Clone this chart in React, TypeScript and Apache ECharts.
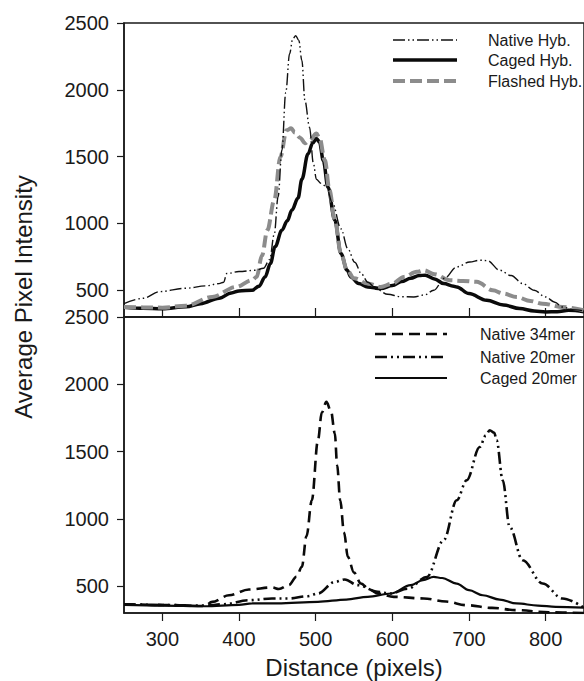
import React, { useEffect, useRef } from "react";
import * as echarts from "echarts";

// ---- data ----
const xTicks = [300, 400, 500, 600, 700, 800];
const yTicks = [500, 1000, 1500, 2000, 2500];

const nativeHyb = [
  [250, 400], [275, 440], [297, 490], [330, 515], [357, 533], [374, 550], [380, 560], [384, 625],
  [400, 640], [421, 650], [432, 665], [440, 730], [446, 920], [451, 1200], [456, 1550], [461, 1980],
  [466, 2270], [470, 2380], [474, 2405], [478, 2370], [482, 2220], [486, 1920], [492, 1720], [497, 1450],
  [501, 1330], [507, 1300], [514, 1275], [522, 1150], [533, 960], [542, 810], [551, 710], [560, 620],
  [568, 560], [580, 505], [594, 470], [611, 452], [628, 450], [642, 465], [654, 500], [668, 590],
  [684, 675], [701, 712], [714, 725], [724, 722], [740, 650], [755, 610], [770, 550], [785, 500],
  [800, 450], [812, 410], [822, 375], [835, 355], [850, 345],
];

const cagedHyb = [
  [250, 372], [275, 365], [300, 362], [331, 376], [350, 400], [374, 440], [390, 480], [400, 495],
  [417, 500], [426, 530], [434, 600], [441, 700], [447, 825], [456, 950], [463, 1020], [469, 1100],
  [477, 1190], [482, 1330], [490, 1520], [496, 1600], [501, 1635], [505, 1610], [510, 1470], [516, 1273],
  [525, 1024], [533, 775], [541, 650], [546, 600], [556, 550], [568, 525], [585, 513], [600, 535],
  [612, 565], [624, 590], [635, 610], [643, 613], [655, 585], [667, 550], [680, 530], [684, 525],
  [700, 475], [723, 425], [745, 390], [766, 363], [785, 345], [800, 338], [815, 340], [830, 350],
  [850, 340],
];

const flashedHyb = [
  [250, 375], [275, 372], [300, 370], [331, 385], [365, 450], [396, 525], [417, 575], [423, 600],
  [430, 760], [437, 950], [446, 1174], [454, 1498], [462, 1697], [468, 1712], [473, 1680], [480, 1640],
  [486, 1600], [492, 1620], [501, 1673], [505, 1640], [512, 1473], [518, 1250], [525, 1024], [533, 775],
  [541, 650], [550, 590], [568, 550], [585, 525], [600, 550], [615, 600], [632, 638], [641, 650],
  [655, 620], [675, 575], [692, 570], [710, 563], [731, 500], [745, 475], [762, 450], [780, 420],
  [796, 400], [822, 375], [850, 350],
];

const native34mer = [
  [250, 365], [300, 360], [355, 352], [365, 383], [387, 432], [413, 475], [443, 490], [452, 478],
  [465, 507], [475, 570], [482, 643], [488, 870], [495, 1138], [503, 1584], [508, 1790], [514, 1869],
  [520, 1800], [525, 1634], [528, 1400], [532, 1138], [537, 900], [542, 717], [550, 600], [559, 519],
  [570, 475], [581, 445], [602, 420], [641, 408], [670, 385], [697, 358], [730, 338], [762, 321],
  [804, 305], [850, 300],
];

const native20mer = [
  [250, 365], [300, 360], [355, 355], [380, 365], [413, 395], [443, 408], [465, 408], [490, 425],
  [503, 445], [525, 531], [538, 549], [555, 507], [581, 457], [598, 445], [620, 480], [645, 568],
  [667, 841], [684, 1138], [697, 1287], [714, 1534], [722, 1620], [727, 1658], [733, 1640], [736, 1584],
  [744, 1287], [753, 940], [770, 692], [796, 519], [822, 408], [850, 340],
];

const caged20mer = [
  [250, 360], [300, 355], [355, 350], [400, 360], [417, 371], [450, 372], [503, 383], [540, 400],
  [568, 420], [598, 445], [624, 507], [640, 545], [654, 568], [665, 560], [684, 519], [700, 470],
  [718, 432], [740, 400], [762, 371], [790, 355], [813, 346], [850, 340],
];

const FONT = "'Liberation Sans', Arial, Helvetica, sans-serif";
const INK = "#1a1a1a";

type Style = { name: string; color: string; width: number; dash: number[] | null };

const topStyles: Style[] = [
  { name: "Native Hyb.", color: "#111111", width: 1.4, dash: [12, 3, 1.5, 3, 1.5, 3] },
  { name: "Caged Hyb.", color: "#0a0a0a", width: 3.5, dash: null },
  { name: "Flashed Hyb.", color: "#8c8c8c", width: 4, dash: [12, 5] },
];
const bottomStyles: Style[] = [
  { name: "Native 34mer", color: "#0a0a0a", width: 2.6, dash: [11, 6] },
  { name: "Native 20mer", color: "#0a0a0a", width: 2.6, dash: [12, 4, 2, 4, 2, 4] },
  { name: "Caged 20mer", color: "#0a0a0a", width: 2.2, dash: null },
];

export default function App() {
  const ref = useRef<HTMLDivElement>(null);

  useEffect(() => {
    if (!ref.current) return;
    const chart = echarts.init(ref.current, undefined, { renderer: "svg" });

    const yAxisBase = (gridIndex: number) => ({
      type: "value",
      gridIndex,
      min: 300,
      max: 2500,
      axisLine: { show: true, lineStyle: { color: INK, width: 1.5 } },
      axisTick: { show: true, inside: false, length: 7, customValues: yTicks, lineStyle: { color: INK, width: 1.2 } },
      axisLabel: {
        show: true, customValues: yTicks, fontSize: 20, color: INK, fontFamily: FONT, margin: 15,
        formatter: (v: number) => String(v),
      },
      splitLine: { show: false },
    });

    const styleOf = (name: string) => [...topStyles, ...bottomStyles].find((s) => s.name === name)!;

    const line = (name: string, data: number[][], idx: number) => {
      const s = styleOf(name);
      return {
        type: "line",
        name,
        data,
        xAxisIndex: idx,
        yAxisIndex: idx,
        symbol: "none",
        smooth: 0.35,
        smoothMonotone: "x",
        lineStyle: { color: s.color, width: s.width, type: s.dash ?? "solid", cap: "butt" },
        itemStyle: { color: s.color },
        z: 3,
      };
    };

    const legendGraphics = (styles: Style[], x0: number, x1: number, tx: number, ys: number[]) =>
      styles.flatMap((s, i) => [
        {
          type: "line",
          shape: { x1: x0, y1: ys[i], x2: x1, y2: ys[i] },
          style: { stroke: s.color, lineWidth: s.width, lineDash: s.dash ?? undefined },
          z: 10,
        },
        {
          type: "text",
          x: tx,
          y: ys[i],
          style: { text: s.name, fontSize: 16, fontFamily: FONT, fill: INK, align: "left", verticalAlign: "middle" },
          z: 10,
        },
      ]);

    chart.setOption({
      animation: false,
      backgroundColor: "#ffffff",
      textStyle: { fontFamily: FONT },
      grid: [
        { left: 124, top: 23, width: 464, height: 294, show: true, borderColor: INK, borderWidth: 1.5, backgroundColor: "transparent" },
        { left: 124, top: 317, width: 464, height: 296, show: true, borderColor: INK, borderWidth: 1.5, backgroundColor: "transparent" },
      ],
      xAxis: [
        {
          type: "value", gridIndex: 0, min: 250, max: 850,
          axisLine: { show: true, lineStyle: { color: INK, width: 1.5 } },
          axisTick: { show: true, inside: true, length: 9, customValues: xTicks, lineStyle: { color: INK, width: 1.2 } },
          axisLabel: { show: false },
          splitLine: { show: false },
        },
        {
          type: "value", gridIndex: 1, min: 250, max: 850,
          axisLine: { show: true, lineStyle: { color: INK, width: 1.5 } },
          axisTick: { show: true, inside: false, length: 8, customValues: xTicks, lineStyle: { color: INK, width: 1.2 } },
          axisLabel: { show: true, customValues: xTicks, fontSize: 20, color: INK, fontFamily: FONT, margin: 16 },
          splitLine: { show: false },
          name: "Distance (pixels)",
          nameLocation: "middle",
          nameGap: 42,
          nameTextStyle: { fontSize: 24, color: INK, fontFamily: FONT },
        },
      ],
      yAxis: [yAxisBase(0), yAxisBase(1)],
      graphic: [
        {
          type: "text",
          x: 23,
          y: 297,
          rotation: Math.PI / 2,
          style: {
            text: "Average Pixel Intensity",
            fontSize: 24,
            fontFamily: FONT,
            fill: INK,
            align: "center",
            verticalAlign: "middle",
          },
        },
        ...legendGraphics(topStyles, 393, 457, 488, [40, 60, 81]),
        ...legendGraphics(bottomStyles, 375, 447, 480, [334, 357, 378]),
      ],
      series: [
        line("Caged Hyb.", cagedHyb, 0),
        line("Flashed Hyb.", flashedHyb, 0),
        line("Native Hyb.", nativeHyb, 0),
        line("Native 34mer", native34mer, 1),
        line("Native 20mer", native20mer, 1),
        line("Caged 20mer", caged20mer, 1),
      ],
    });

    return () => chart.dispose();
  }, []);

  return (
    <div
      ref={ref}
      style={{ position: "fixed", left: 0, top: 0, width: 584, height: 681, background: "#fff" }}
    />
  );
}
